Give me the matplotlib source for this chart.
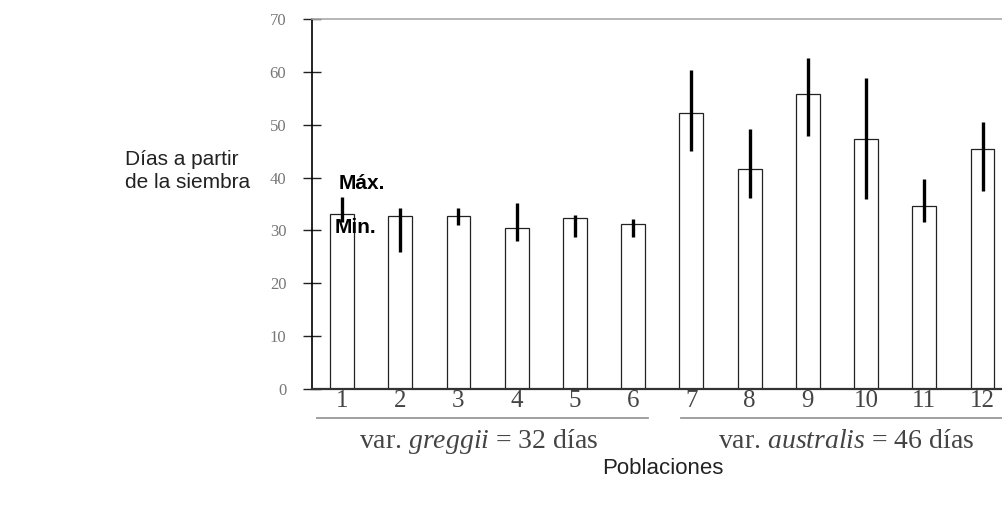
import matplotlib
matplotlib.use("Agg")
import matplotlib.pyplot as plt
import matplotlib.transforms as mtransforms

plt.rcParams["mathtext.fontset"] = "custom"
plt.rcParams["mathtext.rm"] = "Liberation Serif"
plt.rcParams["mathtext.it"] = "Liberation Serif:italic"

# ---- data ----
populations = ["1", "2", "3", "4", "5", "6", "7", "8", "9", "10", "11", "12"]
means = [33.1, 32.7, 32.7, 30.5, 32.4, 31.3, 52.2, 41.6, 55.8, 47.3, 34.7, 45.4]
maxs = [36.3, 34.2, 34.2, 35.1, 33.0, 32.1, 60.3, 49.2, 62.6, 58.8, 39.7, 50.6]
mins = [31.5, 26.0, 31.0, 28.0, 28.8, 28.8, 45.0, 36.2, 47.9, 35.9, 31.5, 37.4]
yticks = [0, 10, 20, 30, 40, 50, 60, 70]
group_labels = [r"var. $\mathit{greggii}$ = 32 días", r"var. $\mathit{australis}$ = 46 días"]

fig = plt.figure(figsize=(10.03, 5.08), dpi=100)
ax = fig.add_axes([312 / 1003, 1 - 389 / 508, 1 - 312 / 1003, (389 - 19) / 508])

x = list(range(1, len(populations) + 1))
ax.bar(x, means, width=0.41, facecolor="white", edgecolor="#222222", linewidth=0.9, zorder=2)
ax.vlines(x, mins, maxs, colors="black", linewidth=2.4, zorder=3)

ax.set_xlim(0.485, 12.352)
ax.set_ylim(0, 70)

serif = ["Liberation Serif", "DejaVu Serif"]
ax.set_yticks(yticks)
ax.set_yticklabels([str(t) for t in yticks], family=serif, fontsize=12, color="#777777")
ax.tick_params(axis="y", direction="inout", length=13, width=1.0, pad=12, color="#222222")
ax.set_xticks(x)
ax.set_xticklabels(populations, family=serif, fontsize=18, color="#444444")
ax.tick_params(axis="x", length=0, pad=1)

ax.spines["right"].set_visible(False)
ax.spines["top"].set_color("#aaaaaa")
ax.spines["top"].set_linewidth(1.2)
ax.spines["left"].set_linewidth(1.2)
ax.spines["bottom"].set_linewidth(1.6)
ax.spines["bottom"].set_color("#333333")

# group underlines and labels
trans = mtransforms.blended_transform_factory(ax.transData, ax.transAxes)
y_line = -(418 - 389) / 370
y_text = -(441 - 389) / 370
line_spans = [(0.57, 6.26), (6.82, 12.36)]
text_x = [3.35, 9.65]
for (a, b), lab, tx in zip(line_spans, group_labels, text_x):
    ax.plot([a, b], [y_line, y_line], transform=trans, clip_on=False, color="#999999", lw=1.3)
    ax.text(tx, y_text, lab, transform=trans, ha="center", va="center",
            family=serif, fontsize=20, color="#444444")

sans = ["Liberation Sans", "DejaVu Sans"]
fig.text(663 / 1003, 1 - 468 / 508, "Poblaciones", ha="center", va="center", family=sans, fontsize=16, color="#222222")
fig.text(125 / 1003, 1 - 171 / 508, "Días a partir\nde la siembra", ha="left", va="center",
         family=sans, fontsize=15, color="#222222", linespacing=1.3)

ax.text(0.95, 38.8, "Máx.", family=sans, fontweight="bold", fontsize=15, color="black", ha="left", va="center", zorder=4)
ax.text(0.88, 30.6, "Min.", family=sans, fontweight="bold", fontsize=15, color="black", ha="left", va="center", zorder=4)

fig.savefig("out.png", dpi=100)
